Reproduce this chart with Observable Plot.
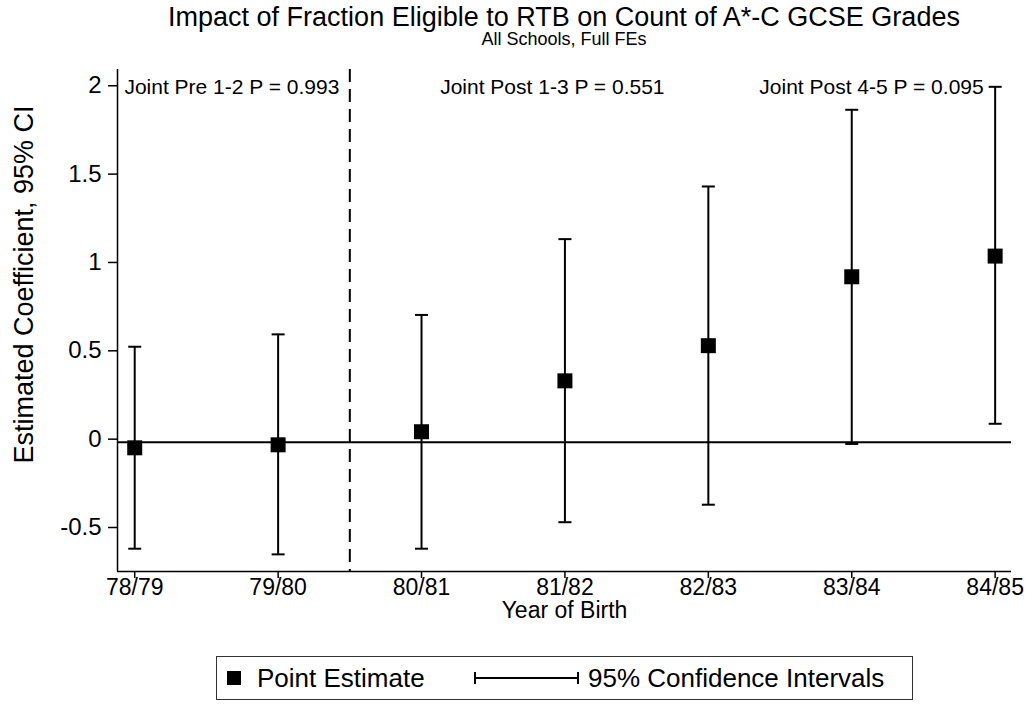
<!DOCTYPE html>
<html>
<head>
<meta charset="utf-8">
<script src="https://cdn.jsdelivr.net/npm/d3@7"></script>
<script src="https://cdn.jsdelivr.net/npm/@observablehq/plot@0.6"></script>
<style>
  body { margin: 0; background: #fff; }
  #wrap { position: relative; width: 1033px; height: 707px; font-family: "Liberation Sans", Arial, sans-serif; color: #000; }
  .abs { position: absolute; white-space: nowrap; }
</style>
</head>
<body>
<div id="wrap">
  <div id="chart" class="abs" style="left:0;top:0"></div>
  <div class="abs" style="left:117px;width:894px;top:5px;text-align:center;font-size:27px;line-height:24px">Impact of Fraction Eligible to RTB on Count of A*-C GCSE Grades</div>
  <div class="abs" style="left:117px;width:894px;top:31px;text-align:center;font-size:18px;line-height:16px">All Schools, Full FEs</div>
  <div class="abs" style="left:216px;top:656px;width:697px;height:44px;border:1px solid #333;box-sizing:border-box">
    <div class="abs" style="left:10px;top:14px;width:14px;height:14px;background:#000"></div>
    <div class="abs" style="left:40px;top:6px;font-size:26px;line-height:30px">Point Estimate</div>
    <div class="abs" style="left:257px;top:20px;width:105px;height:2px;background:#000"></div>
    <div class="abs" style="left:257px;top:15px;width:2px;height:12px;background:#000"></div>
    <div class="abs" style="left:360px;top:15px;width:2px;height:12px;background:#000"></div>
    <div class="abs" style="left:371px;top:6px;font-size:26px;line-height:30px">95% Confidence Intervals</div>
  </div>
</div>
<script>
// ---- data ----
const years = ["78/79", "79/80", "80/81", "81/82", "82/83", "83/84", "84/85"];
const estimate = [-0.032, -0.015, 0.059, 0.347, 0.546, 0.936, 1.053];
const ciLow = [-0.603, -0.635, -0.603, -0.453, -0.354, -0.010, 0.104];
const ciHigh = [0.540, 0.610, 0.720, 1.149, 1.447, 1.881, 2.011];
const yTicks = [-0.5, 0, 0.5, 1, 1.5, 2];
const cutoff = [1.5];
const annLabels = ["Joint Pre 1-2 P = 0.993", "Joint Post 1-3 P = 0.551", "Joint Post 4-5 P = 0.095"];
const annX = [-0.072, 2.13, 5.92];
const annAnchor = ["start", "start", "end"];
const annY = [2, 2, 2];

const xDomain = [-0.12, 6.114];
const yDomain = [-0.732, 2.109];

const rows = years.map((year, i) => ({i, year, est: estimate[i], lo: ciLow[i], hi: ciHigh[i]}));
const anns = annLabels.map((label, k) => ({label, x: annX[k], y: annY[k], anchor: annAnchor[k]}));

const capSymbol = {
  draw(context, size) {
    const r = Math.sqrt(size / Math.PI);
    context.moveTo(-r, 0);
    context.lineTo(r, 0);
  }
};

const chart = Plot.plot({
  width: 1033,
  height: 707,
  marginLeft: 117,
  marginRight: 22,
  marginTop: 69,
  marginBottom: 136,
  style: {fontFamily: "'Liberation Sans', Arial, sans-serif", fontSize: "24px", color: "#000", background: "transparent"},
  x: {type: "linear", domain: xDomain},
  y: {domain: yDomain},
  marks: [
    Plot.ruleY([0], {stroke: "#000", strokeWidth: 2}),
    Plot.ruleX(cutoff, {stroke: "#000", strokeWidth: 2, strokeDasharray: "13,7"}),
    Plot.ruleX(rows, {x: "i", y1: "lo", y2: "hi", stroke: "#000", strokeWidth: 2}),
    Plot.dot(rows, {x: "i", y: "lo", symbol: capSymbol, r: 6.5, stroke: "#000", strokeWidth: 2, fill: "none"}),
    Plot.dot(rows, {x: "i", y: "hi", symbol: capSymbol, r: 6.5, stroke: "#000", strokeWidth: 2, fill: "none"}),
    Plot.dot(rows, {x: "i", y: "est", symbol: "square", r: 8.46, fill: "#000", stroke: "none"}),
    Plot.ruleX([xDomain[0]], {stroke: "#000", strokeWidth: 1.5}),
    Plot.ruleY([yDomain[0]], {stroke: "#000", strokeWidth: 1.5}),
    Plot.axisY({ticks: yTicks, tickSize: 9, tickPadding: 7, fontSize: 24, dy: -3, tickFormat: d => String(d), label: null, strokeWidth: 1.5}),
    Plot.axisX({ticks: d3.range(years.length), tickSize: 7, tickPadding: 0, fontSize: 23, tickFormat: i => years[i], label: null, strokeWidth: 1.5}),
    Plot.text(["Year of Birth"], {frameAnchor: "bottom", dy: 46, fontSize: 23, fill: "#000"}),
    Plot.text(["Estimated Coefficient, 95% CI"], {frameAnchor: "left", textAnchor: "middle", dx: -93, dy: -36, rotate: -90, fontSize: 27, fill: "#000"}),
    Plot.text(anns, {x: "x", y: "y", text: "label", textAnchor: "start", filter: d => d.anchor === "start", fontSize: 21, dy: -1, fill: "#000"}),
    Plot.text(anns, {x: "x", y: "y", text: "label", textAnchor: "end", filter: d => d.anchor === "end", fontSize: 21, dy: -1, fill: "#000"})
  ]
});
document.getElementById("chart").appendChild(chart);
</script>
</body>
</html>
